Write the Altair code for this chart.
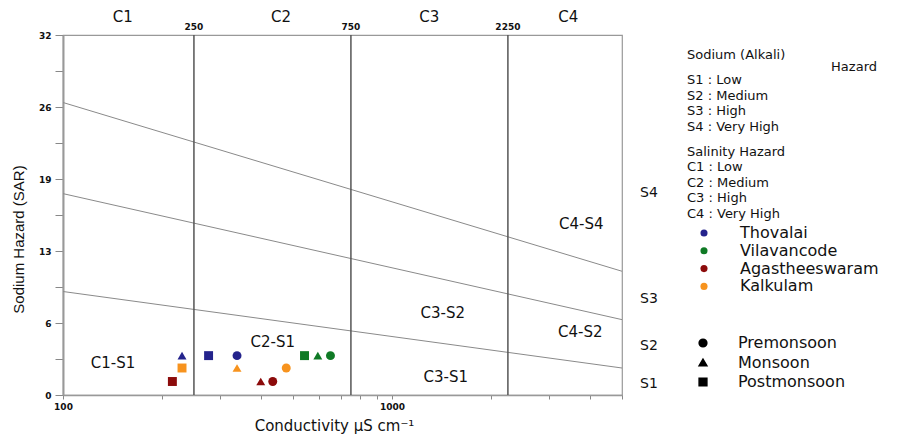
import altair as alt
import pandas as pd

# ---------------- data ----------------
regions = ["Thovalai", "Vilavancode", "Agastheeswaram", "Kalkulam"]
region_colors = ["#24238c", "#0f7a25", "#8c0b0b", "#f7931e"]
seasons = ["Premonsoon", "Monsoon", "Postmonsoon"]
season_shapes = ["circle", "triangle-up", "square"]

sample_region = (["Thovalai"] * 3 + ["Kalkulam"] * 3 +
                 ["Agastheeswaram"] * 3 + ["Vilavancode"] * 3)
sample_season = ["Monsoon", "Postmonsoon", "Premonsoon",
                 "Postmonsoon", "Monsoon", "Premonsoon",
                 "Postmonsoon", "Monsoon", "Premonsoon",
                 "Postmonsoon", "Monsoon", "Premonsoon"]
sample_ec = [230, 277, 338, 230, 338, 477, 215, 399, 434, 542, 595, 650]
sample_sar = [3.5, 3.5, 3.5, 2.4, 2.4, 2.4, 1.2, 1.2, 1.2, 3.5, 3.5, 3.5]

boundary_id = ["S1/S2", "S1/S2", "S2/S3", "S2/S3", "S3/S4", "S3/S4"]
boundary_ec = [100, 5000, 100, 5000, 100, 5000]
boundary_sar = [9.2, 2.4, 17.9, 6.7, 26.0, 11.0]

class_limits = [250, 750, 2250]
class_limit_labels = ["250", "750", "2250"]

salinity_classes = ["C1", "C2", "C3", "C4"]
salinity_class_ec = [152, 460, 1298, 3434]

zone_labels = ["C1-S1", "C2-S1", "C3-S2", "C3-S1", "C4-S2", "C4-S4"]
zone_ec = [142, 434, 1426, 1457, 3736, 3762]
zone_sar = [2.85, 4.7, 7.3, 1.6, 5.6, 15.2]

sodium_classes = ["S4", "S3", "S2", "S1"]
sodium_class_sar = [17.96, 8.5, 4.36, 0.98]

x_tick_values = [100, 200, 300, 400, 500, 600, 700, 800, 900, 1000,
                 2000, 3000, 4000, 5000]
y_tick_values = [0, 3.2, 6.4, 9.6, 12.8, 16, 19.2, 22.4, 25.6, 28.8, 32]

key_lines = ["Sodium (Alkali)", "S1 : Low", "S2 : Medium", "S3 : High",
             "S4 : Very High", "Salinity Hazard", "C1 : Low", "C2 : Medium",
             "C3 : High", "C4 : Very High"]
key_line_y = [20, 45, 60.5, 76, 91.5, 116.5, 132, 147.5, 163, 178.5]

# ---------------- tables ----------------
samples = pd.DataFrame({"region": sample_region, "season": sample_season,
                        "ec": sample_ec, "sar": sample_sar})
boundaries = pd.DataFrame({"boundary": boundary_id, "ec": boundary_ec,
                           "sar": boundary_sar})
limits = pd.DataFrame({"ec": class_limits, "label": class_limit_labels})
cls = pd.DataFrame({"ec": salinity_class_ec, "label": salinity_classes})
zones = pd.DataFrame({"ec": zone_ec, "sar": zone_sar, "label": zone_labels})
sodium = pd.DataFrame({"sar": sodium_class_sar, "label": sodium_classes})
key = pd.DataFrame({"line": key_lines, "py": key_line_y})

FONT = "DejaVu Sans"
W, H = 559, 360

x_scale = alt.Scale(type="log", domain=[100, 5000], nice=False)
y_scale = alt.Scale(domain=[0, 32], nice=False, zero=True)

x_axis = alt.Axis(
    values=x_tick_values,
    labelExpr="(datum.value == 100 || datum.value == 1000) ? format(datum.value, 'd') : ''",
    title="Conductivity µS cm⁻¹", grid=False, tickSize=4, tickColor="#888",
    domainColor="#999", domainWidth=1.5,
    labelFont=FONT, labelFontSize=9, labelFontWeight="bold", labelColor="#111",
    labelPadding=3, labelFlush=False, labelOverlap=False,
    titleFont=FONT, titleFontSize=15, titleFontWeight="normal", titleColor="#111",
    titleX=271, titleY=30, titleAlign="center", titleBaseline="middle")

y_axis = alt.Axis(
    values=y_tick_values,
    labelExpr="abs(datum.value / 6.4 - round(datum.value / 6.4)) < 0.01 ? format(round(datum.value), 'd') : ''",
    title="Sodium Hazard (SAR)", grid=False, tickSize=8, tickColor="#888",
    domainColor="#999", domainWidth=2,
    labelFont=FONT, labelFontSize=9, labelFontWeight="bold", labelColor="#111",
    labelPadding=4, labelFlush=False, labelOverlap=False,
    titleFont="Liberation Sans", titleFontSize=15, titleFontWeight="normal",
    titleColor="#111", titleX=-45, titleY=204, titleAngle=-90,
    titleAlign="center", titleBaseline="middle")

xe = alt.X("ec:Q", scale=x_scale, axis=x_axis)
ye = alt.Y("sar:Q", scale=y_scale, axis=y_axis)

lines = alt.Chart(boundaries).mark_line(color="#8a8a8a", strokeWidth=1).encode(
    x=xe, y=ye, detail="boundary:N")

rules = alt.Chart(limits).mark_rule(color="#555", strokeWidth=1.5).encode(x=xe)

limit_text = alt.Chart(limits).mark_text(
    font=FONT, fontSize=9, fontWeight="bold", color="#111").encode(
    x=xe, y=alt.value(-8), text="label:N")

class_text = alt.Chart(cls).mark_text(font=FONT, fontSize=15, color="#111").encode(
    x=xe, y=alt.value(-18), text="label:N")

zone_text = alt.Chart(zones).mark_text(font=FONT, fontSize=15, color="#111").encode(
    x=xe, y=ye, text="label:N")

sodium_text = alt.Chart(sodium).mark_text(font=FONT, fontSize=14, color="#111").encode(
    x=alt.value(586), y=ye, text="label:N")

key_text = alt.Chart(key).mark_text(font=FONT, fontSize=13, color="#111",
                                    align="left").encode(
    x=alt.value(624), y=alt.Y("py:Q", scale=None), text="line:N")

hazard_text = alt.Chart(pd.DataFrame({"t": ["Hazard"]})).mark_text(
    font=FONT, fontSize=13, color="#111", align="right").encode(
    x=alt.value(814), y=alt.value(32), text="t:N")

points = alt.Chart(samples).mark_point(filled=True, size=80, opacity=1).encode(
    x=xe, y=ye,
    color=alt.Color("region:N", scale=alt.Scale(domain=regions, range=region_colors),
                    legend=alt.Legend(title=None, orient="none", legendX=633,
                                      legendY=190, symbolType="circle",
                                      symbolSize=50, symbolStrokeWidth=0,
                                      labelFont=FONT, labelFontSize=16,
                                      labelColor="#111", labelOffset=28,
                                      labelLimit=300, rowPadding=1.8, padding=0)),
    shape=alt.Shape("season:N", scale=alt.Scale(domain=seasons, range=season_shapes),
                    legend=alt.Legend(title=None, orient="none", legendX=632,
                                      legendY=300, symbolSize=60,
                                      symbolFillColor="black",
                                      symbolStrokeColor="black",
                                      labelFont=FONT, labelFontSize=16,
                                      labelColor="#111", labelOffset=27,
                                      labelLimit=300, rowPadding=3.5, padding=0)))

chart = alt.layer(lines, rules, limit_text, class_text, zone_text, sodium_text,
                  key_text, hazard_text, points).properties(
    width=W, height=H,
    autosize=alt.AutoSizeParams(type="none"),
    padding={"left": 55, "top": 27, "right": 291, "bottom": 42},
    background="white",
).configure_view(stroke="#999", strokeWidth=1.2)

chart.save("out.html", embed_options={"renderer": "svg", "actions": False})
